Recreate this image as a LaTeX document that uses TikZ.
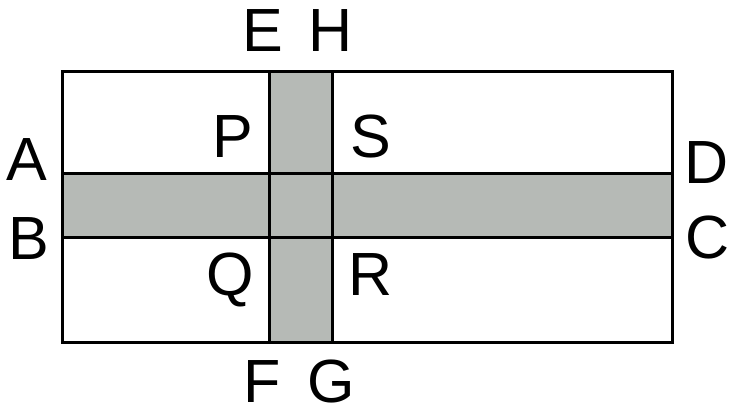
\documentclass[tikz,border=0pt]{standalone}
\usepackage{fontspec}
\setmainfont{Liberation Sans}
\definecolor{stripgray}{RGB}{182,186,182}
\begin{document}
\begin{tikzpicture}[x=1pt,y=-1pt,
  lbl/.style={inner sep=0pt,text height=45pt,text depth=0pt,anchor=center,font=\fontsize{61}{61}\selectfont},
  edge/.style={line width=3pt,line join=miter}]
\useasboundingbox (0,0) rectangle (729,416);
% shaded strips
\fill[stripgray] (62,173) rectangle (672,237);
\fill[stripgray] (269,71) rectangle (332,342);
% outlines
\draw[edge] (62,71) rectangle (672,342);
\draw[edge] (62,173) -- (672,173);
\draw[edge] (62,237) -- (672,237);
\draw[edge] (269,71) -- (269,342);
\draw[edge] (332,71) -- (332,342);
% labels
\node[lbl] (E) at (263,29) {E};
\node[lbl] (H) at (331,29) {H};
\node[lbl] (A) at (27,158) {A};
\node[lbl] (B) at (29,237) {B};
\node[lbl] (D) at (707,161) {D};
\node[lbl] (C) at (708,236) {C};
\node[lbl] (P) at (233,135) {P};
\node[lbl] (S) at (371,135) {S};
\node[lbl] (Q) at (230,273) {Q};
\node[lbl] (R) at (371,273) {R};
\node[lbl] (F) at (262,380) {F};
\node[lbl] (G) at (331,380) {G};
\end{tikzpicture}
\end{document}
